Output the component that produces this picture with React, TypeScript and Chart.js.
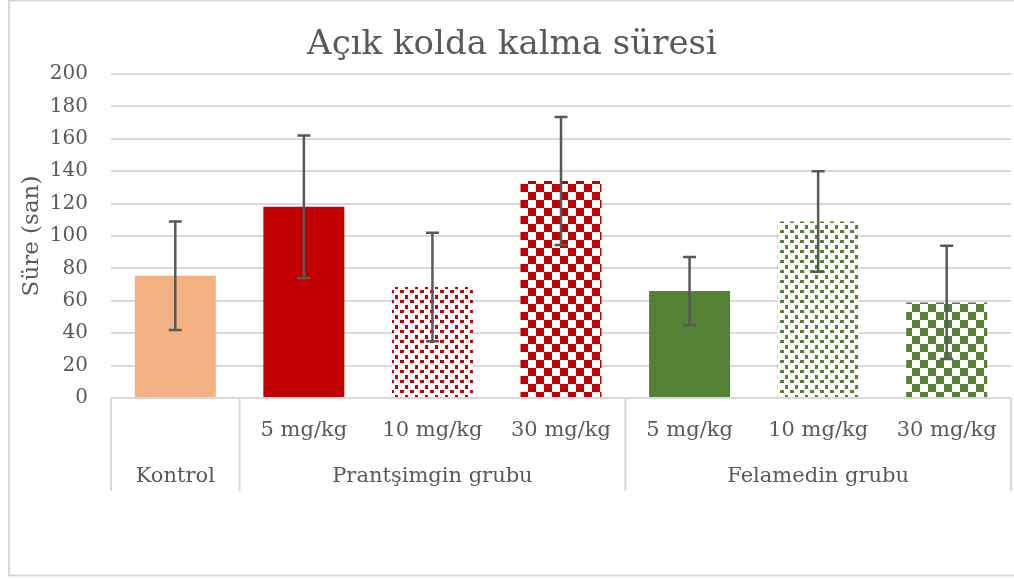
import { useEffect, useRef } from 'react';
import { Chart, registerables } from 'chart.js';

Chart.register(...registerables);

const chartTitle = 'Açık kolda kalma süresi';
const yAxisTitle = 'Süre (san)';
const doseLabels = ['', '5 mg/kg', '10 mg/kg', '30 mg/kg', '5 mg/kg', '10 mg/kg', '30 mg/kg'];
const groupLabels = ['Kontrol', 'Prantşimgin grubu', 'Felamedin grubu'];
const groupStarts = [0, 1, 4];
const groupEnds = [0, 3, 6];
const meanValues = [75.5, 118, 68.5, 134, 66, 109, 59];
const errorValues = [33.5, 44, 33.5, 39.5, 21, 31, 35];
const barColors = ['#F4B183', '#C00000', '#C00000', '#C00000', '#548235', '#548235', '#548235'];
const barPatterns = ['solid', 'solid', 'dots', 'checker', 'solid', 'dots', 'checker'];
const yMin = 0;
const yMax = 200;
const yStep = 20;

const FONT = '"DejaVu Serif", serif';
const TEXT = '#595959';
const LINE = '#d9d9d9';

function makeFill(kind: string, color: string): any {
  if (kind === 'solid') return color;
  const c = document.createElement('canvas');
  const ctx = c.getContext('2d')!;
  if (kind === 'dots') {
    c.width = 10;
    c.height = 10;
    ctx.fillStyle = '#ffffff';
    ctx.fillRect(0, 0, 10, 10);
    ctx.fillStyle = color;
    ctx.fillRect(0, 0, 4, 3);
    ctx.fillRect(5, 5, 3, 4);
  } else {
    c.width = 16;
    c.height = 16;
    ctx.fillStyle = '#ffffff';
    ctx.fillRect(0, 0, 16, 16);
    ctx.fillStyle = color;
    ctx.fillRect(0, 0, 8, 8);
    ctx.fillRect(8, 8, 8, 8);
  }
  return ctx.createPattern(c, 'repeat');
}

const decorPlugin = {
  id: 'decor',
  afterDatasetsDraw(chart: any) {
    const ctx = chart.ctx;
    const y = chart.scales.y;
    const x = chart.scales.x;
    ctx.save();
    ctx.strokeStyle = '#595959';
    ctx.lineWidth = 2.5;
    meanValues.forEach((v, i) => {
      const px = x.getPixelForValue(i);
      const top = y.getPixelForValue(v + errorValues[i]);
      const bot = y.getPixelForValue(v - errorValues[i]);
      ctx.beginPath();
      ctx.moveTo(px, top);
      ctx.lineTo(px, bot);
      ctx.moveTo(px - 6.5, top);
      ctx.lineTo(px + 6.5, top);
      ctx.moveTo(px - 6.5, bot);
      ctx.lineTo(px + 6.5, bot);
      ctx.stroke();
    });
    ctx.restore();
  },
  afterDraw(chart: any) {
    const ctx = chart.ctx;
    const area = chart.chartArea;
    const x = chart.scales.x;
    const half = (x.getPixelForValue(1) - x.getPixelForValue(0)) / 2;
    ctx.save();
    ctx.strokeStyle = LINE;
    ctx.lineWidth = 2;
    ctx.strokeRect(9, 0.5, 1100, 575);
    ctx.fillStyle = TEXT;
    ctx.font = `34px ${FONT}`;
    ctx.textAlign = 'center';
    ctx.textBaseline = 'middle';
    ctx.fillText(chartTitle, 512, 45);
    ctx.save();
    ctx.translate(32, (area.top + area.bottom) / 2);
    ctx.rotate(-Math.PI / 2);
    ctx.font = `23px ${FONT}`;
    ctx.fillText(yAxisTitle, 0, 0);
    ctx.restore();
    ctx.strokeStyle = LINE;
    ctx.lineWidth = 2;
    ctx.beginPath();
    ctx.moveTo(area.left, area.bottom);
    ctx.lineTo(area.right, area.bottom);
    const boxBottom = area.bottom + 93;
    ctx.moveTo(area.left, area.bottom);
    ctx.lineTo(area.left, boxBottom);
    groupEnds.forEach((e) => {
      const bx = x.getPixelForValue(e) + half;
      ctx.moveTo(bx, area.bottom);
      ctx.lineTo(bx, boxBottom);
    });
    ctx.stroke();
    ctx.font = `21px ${FONT}`;
    ctx.fillStyle = TEXT;
    doseLabels.forEach((lab, i) => {
      if (lab) ctx.fillText(lab, x.getPixelForValue(i), area.bottom + 33);
    });
    groupLabels.forEach((lab, g) => {
      const cx = (x.getPixelForValue(groupStarts[g]) + x.getPixelForValue(groupEnds[g])) / 2;
      ctx.fillText(lab, cx, area.bottom + 79);
    });
    ctx.restore();
  },
};

export default function App() {
  const ref = useRef<HTMLCanvasElement>(null);
  useEffect(() => {
    const canvas = ref.current!;
    const chart = new Chart(canvas, {
      type: 'bar',
      data: {
        labels: doseLabels,
        datasets: [
          {
            data: meanValues,
            backgroundColor: meanValues.map((_, i) => makeFill(barPatterns[i], barColors[i])),
            borderWidth: 0,
            barPercentage: 0.63,
            categoryPercentage: 1,
          },
        ],
      },
      options: {
        responsive: false,
        animation: false,
        layout: { padding: { top: 74, bottom: 181, left: 0, right: 3 } },
        plugins: { legend: { display: false }, tooltip: { enabled: false }, title: { display: false } },
        scales: {
          x: { display: false },
          y: {
            min: yMin,
            max: yMax,
            afterFit: (s: any) => {
              s.width = 111;
            },
            ticks: { stepSize: yStep, padding: 23, color: TEXT, font: { family: FONT, size: 20 } },
            grid: { color: LINE, lineWidth: 2, drawTicks: false, tickLength: 0 },
            border: { display: false },
          },
        },
      },
      plugins: [decorPlugin],
    });
    return () => chart.destroy();
  }, []);
  return (
    <div style={{ position: 'fixed', left: 0, top: 0, width: 1014, height: 579, background: '#fff' }}>
      <canvas ref={ref} width={1014} height={579} />
    </div>
  );
}
